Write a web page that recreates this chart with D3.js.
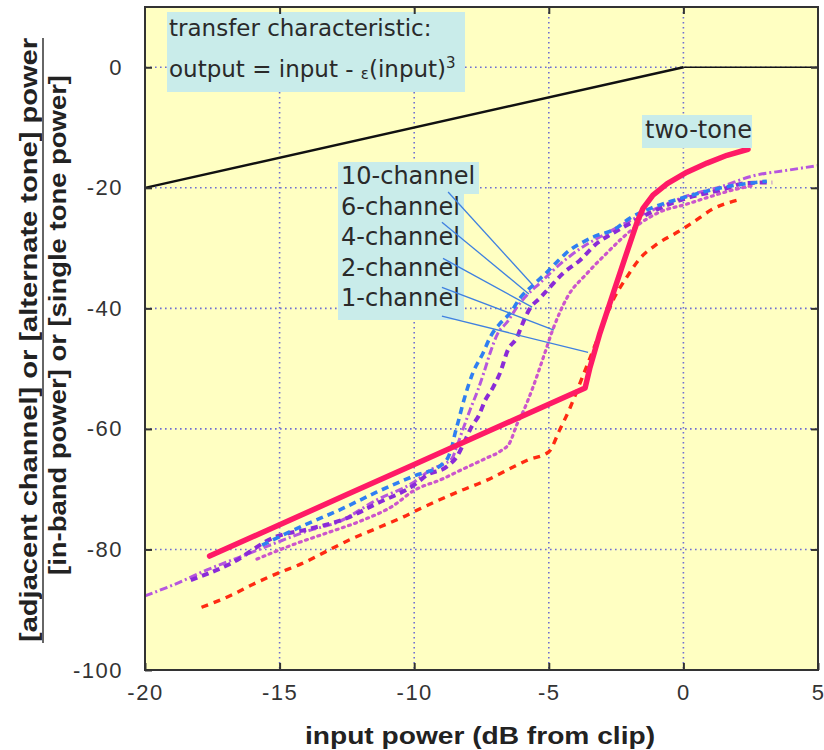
<!DOCTYPE html>
<html>
<head>
<meta charset="utf-8">
<script src="https://cdn.jsdelivr.net/npm/d3@7"></script>
<style>
  body { margin: 0; background: #fff; }
  text { font-family: "Liberation Sans", Arial, sans-serif; }
</style>
</head>
<body>
<script>
// axis ticks
const xTicks = [-20, -15, -10, -5, 0, 5];
const yTicks = [0, -20, -40, -60, -80, -100];
const xGrid = [-15, -10, -5, 0];
const yGrid = [0, -20, -40, -60, -80];

// transfer characteristic (black reference line)
const transferX = [-20, 0, 5];
const transferY = [-20, 0, 0];

// two-tone (solid)
const twoToneX = [-17.6, -15, -12.5, -10, -7.5, -5, -3.65, -3.47, -3.1, -2.6, -2.1, -1.72, -1.5, -1.13, -0.6, 0.13, 0.88, 1.62, 2.4];
const twoToneY = [-81.1, -75.9, -70.9, -65.9, -60.9, -55.9, -53.2, -49.8, -44.1, -37.4, -30.7, -25.7, -23.4, -21.2, -19.3, -17.4, -15.9, -14.6, -13.6];

// 1-channel
const ch1X = [-17.9, -16.8, -16.0, -15.1, -14.2, -13.3, -12.4, -11.4, -10.4, -9.9, -8.3, -7.3, -6.4, -5.8, -5.0, -4.6, -4.2, -3.84, -3.21, -2.61, -2.1, -1.61, -1.0, -0.2, 0.3, 1.1, 2.05];
const ch1Y = [-89.6, -87.6, -85.8, -84.0, -82.4, -80.4, -78.4, -76.5, -74.6, -73.5, -70.3, -68.5, -66.5, -65.2, -63.8, -60.2, -56.4, -52.4, -45.3, -38.6, -34.8, -31.7, -29.4, -27.3, -25.9, -23.5, -22.0];

// 2-channel
const ch2X = [-15.84, -14.5, -13.2, -12.0, -10.8, -10.0, -9.0, -8.3, -7.3, -6.8, -6.44, -6.18, -5.96, -5.59, -5.2, -4.84, -4.32, -3.58, -2.84, -2.24, -1.61, -0.87, 0.13, 0.9, 1.8, 2.6];
const ch2Y = [-81.6, -79.2, -77.2, -75.3, -72.8, -70.2, -68.4, -66.9, -64.8, -63.7, -62.2, -59.2, -57.2, -53.1, -48.1, -43.4, -38.2, -34.2, -30.8, -28.2, -25.9, -24.0, -22.7, -21.6, -20.4, -19.6];

// 4-channel
const ch4X = [-18.3, -16.8, -15.2, -13.9, -12.5, -11.4, -10.0, -9.5, -8.8, -8.4, -8.1, -7.85, -7.6, -7.37, -7.07, -6.81, -6.52, -6.18, -6.0, -5.7, -5.33, -4.96, -4.5, -3.84, -3.21, -2.61, -1.98, -1.13, 0.13, 1.36, 2.36, 3.3];
const ch4Y = [-85.1, -82.3, -78.0, -76.6, -74.8, -72.4, -69.3, -67.6, -66.3, -64.5, -61.8, -59.5, -57.8, -55.3, -53.1, -50.7, -46.9, -44.8, -42.8, -40.0, -38.3, -36.5, -34.3, -32.0, -29.2, -27.5, -25.9, -23.9, -21.7, -20.4, -19.2, -19.1];

// 6-channel
const ch6X = [-20, -18.96, -17.7, -16.5, -15.25, -14.0, -12.8, -11.4, -10.0, -9.4, -8.6, -8.4, -8.2, -7.93, -7.63, -7.4, -7.18, -6.89, -6.55, -6.18, -5.81, -5.33, -4.84, -4.32, -3.7, -3.0, -2.3, -1.6, -1.0, 0.1, 1.4, 2.6, 3.85, 5.0];
const ch6Y = [-87.7, -85.9, -83.4, -81.3, -79.1, -77.0, -75.4, -71.8, -68.8, -66.8, -64.9, -62.7, -60.2, -56.9, -53.5, -50.5, -47.4, -44.1, -42.3, -39.8, -37.8, -35.8, -33.7, -31.7, -29.7, -27.9, -26.2, -24.6, -23.4, -21.4, -19.8, -18.0, -17.1, -16.3];

// 10-channel
const ch10X = [-15.65, -14.1, -12.8, -11.4, -10.0, -9.0, -8.74, -8.6, -8.48, -8.37, -8.19, -7.82, -7.44, -7.18, -6.81, -6.44, -6.07, -5.6, -5.07, -4.7, -4.21, -3.73, -3.21, -2.61, -1.98, -1.1, 0.1, 1.4, 2.5, 3.1];
const ch10Y = [-79.3, -76.0, -73.5, -70.5, -67.8, -66.0, -64.7, -63.0, -60.7, -58.9, -55.8, -50.7, -47.4, -44.8, -42.5, -40.8, -38.3, -36.2, -34.0, -32.3, -30.3, -29.0, -27.9, -27.0, -25.0, -23.2, -21.5, -20.0, -19.2, -18.9];

// label names and leader lines (start / end in data units)
const labelNames = ["10-channel", "6-channel", "4-channel", "2-channel", "1-channel"];
const leaderX0 = [-8.74, -8.97, -8.93, -8.97, -8.97];
const leaderY0 = [-20.7, -25.7, -31.7, -36.5, -41.3];
const leaderX1 = [-5.62, -5.74, -5.62, -4.81, -3.54];
const leaderY1 = [-36.0, -37.6, -39.8, -43.6, -47.3];

const series = [
  {name: "1-channel", x: ch1X, y: ch1Y, color: "#ff2a12", width: 3.4, dash: "7,6", cap: "butt", curve: d3.curveMonotoneX},
  {name: "2-channel", x: ch2X, y: ch2Y, color: "#cc55cc", width: 3.2, dash: "2,4.5", cap: "round", curve: d3.curveMonotoneX},
  {name: "6-channel", x: ch6X, y: ch6Y, color: "#b656de", width: 3, dash: "8,3,2,3", cap: "butt", curve: d3.curveMonotoneX},
  {name: "4-channel", x: ch4X, y: ch4Y, color: "#8a2bd8", width: 4, dash: "7,5", cap: "butt", curve: d3.curveMonotoneX},
  {name: "10-channel", x: ch10X, y: ch10Y, color: "#2f7ff2", width: 3.6, dash: "7,5", cap: "butt", curve: d3.curveMonotoneX},
  {name: "two-tone", x: twoToneX, y: twoToneY, color: "#ff1a66", width: 5.5, dash: null, cap: "round", curve: d3.curveLinear}
];

let margin = {top: 7, right: 6, bottom: 80, left: 145},
    width = 824 - margin.left - margin.right,
    height = 750 - margin.top - margin.bottom;

let svg = d3.select("body")
    .append("svg")
    .attr("width", 824)
    .attr("height", 750);

let g = svg.append("g")
    .attr("transform", "translate(" + margin.left + "," + margin.top + ")");

let x = d3.scaleLinear().domain([-20, 5]).range([0, width]);
let y = d3.scaleLinear().domain([-100, 10]).range([height, 0]);

// plot background
g.append("rect")
    .attr("width", width)
    .attr("height", height)
    .attr("fill", "#ffffc2");

// dotted grid
g.selectAll(".gx").data(xGrid).enter().append("line")
    .attr("x1", d => x(d)).attr("x2", d => x(d))
    .attr("y1", 0).attr("y2", height)
    .attr("stroke", "#6e6ed2").attr("stroke-width", 1.6)
    .attr("stroke-dasharray", "1.6,3.4");
g.selectAll(".gy").data(yGrid).enter().append("line")
    .attr("x1", 0).attr("x2", width)
    .attr("y1", d => y(d)).attr("y2", d => y(d))
    .attr("stroke", "#6e6ed2").attr("stroke-width", 1.6)
    .attr("stroke-dasharray", "1.6,3.4");

// transfer characteristic
g.append("path")
    .datum(d3.range(2).map(i => [transferX[i], transferY[i]]))
    .attr("fill", "none").attr("stroke", "#111").attr("stroke-width", 2.4)
    .attr("d", d3.line().x(d => x(d[0])).y(d => y(d[1])));
g.append("path")
    .datum(d3.range(1, 3).map(i => [transferX[i], transferY[i]]))
    .attr("fill", "none").attr("stroke", "#111").attr("stroke-width", 1.4)
    .attr("d", d3.line().x(d => x(d[0])).y(d => y(d[1])));

// curves
series.forEach(function(s) {
  let line = d3.line()
      .x(d => x(d[0]))
      .y(d => y(d[1]))
      .curve(s.curve);
  g.append("path")
      .datum(s.x.map((v, i) => [v, s.y[i]]))
      .attr("fill", "none")
      .attr("stroke", s.color)
      .attr("stroke-width", s.width)
      .attr("stroke-linecap", s.cap)
      .attr("stroke-linejoin", "round")
      .attr("stroke-dasharray", s.dash)
      .attr("d", line);
});

// annotation boxes
const boxFill = "#c9ecea";
const labelFont = "'DejaVu Sans', Verdana, sans-serif";

// transfer characteristic box
g.append("rect").attr("x", 22).attr("y", 5).attr("width", 298).attr("height", 80).attr("fill", boxFill);
g.append("text").attr("x", 24).attr("y", 29)
    .style("font-family", labelFont).style("font-size", "23px").attr("fill", "#2a2a2a")
    .text("transfer characteristic:");
let t2 = g.append("text").attr("x", 24).attr("y", 70)
    .style("font-family", labelFont).style("font-size", "23px").attr("fill", "#2a2a2a");
t2.append("tspan").text("output = input - ");
t2.append("tspan").style("font-size", "15px").attr("dy", 2).text("ε");
t2.append("tspan").attr("dy", -2).text("(input)");
t2.append("tspan").style("font-size", "15px").attr("dy", -9).text("3");

// channel labels box
g.append("rect").attr("x", 193).attr("y", 155).attr("width", 141).attr("height", 32).attr("fill", boxFill);
g.append("rect").attr("x", 193).attr("y", 186).attr("width", 126).attr("height", 127).attr("fill", boxFill);
g.selectAll(".lbl").data(labelNames).enter().append("text")
    .attr("x", 196)
    .attr("y", (d, i) => 177 + i * 30.6)
    .style("font-family", labelFont).style("font-size", "24px")
    .attr("fill", "#2a2a2a")
    .text(d => d);

// leader lines
g.selectAll(".leader").data(labelNames).enter().append("line")
    .attr("x1", (d, i) => x(leaderX0[i])).attr("y1", (d, i) => y(leaderY0[i]))
    .attr("x2", (d, i) => x(leaderX1[i])).attr("y2", (d, i) => y(leaderY1[i]))
    .attr("stroke", "#3f80e0").attr("stroke-width", 1.3);

// two-tone label
g.append("rect").attr("x", 497).attr("y", 108).attr("width", 110).attr("height", 33).attr("fill", boxFill);
g.append("text").attr("x", 500).attr("y", 131)
    .style("font-family", labelFont).style("font-size", "24px")
    .attr("fill", "#2a2a2a").text("two-tone");

// frame
g.append("rect")
    .attr("width", width).attr("height", height)
    .attr("fill", "none").attr("stroke", "#333").attr("stroke-width", 2);

// axes with inward ticks
let fmt = d => String(d);
let xAxis = g.append("g")
    .attr("transform", "translate(0," + height + ")")
    .call(d3.axisBottom(x).tickValues(xTicks).tickSize(-7).tickPadding(14).tickFormat(fmt));
let xTop = g.append("g")
    .call(d3.axisTop(x).tickValues(xGrid).tickSize(-7).tickFormat(""));
let yAxis = g.append("g")
    .call(d3.axisLeft(y).tickValues(yTicks).tickSize(-7).tickPadding(22).tickFormat(fmt));
let yRight = g.append("g")
    .attr("transform", "translate(" + width + ",0)")
    .call(d3.axisRight(y).tickValues(yGrid).tickSize(-7).tickFormat(""));

[xAxis, xTop, yAxis, yRight].forEach(function(a) {
  a.select(".domain").remove();
  a.selectAll(".tick line").attr("stroke", "#333").attr("stroke-width", 2);
  a.selectAll("text")
      .style("font-size", "22px")
      .style("letter-spacing", "1.5px")
      .style("font-family", "'Liberation Sans', Arial, sans-serif")
      .attr("fill", "#333");
});

// axis titles
svg.append("text")
    .attr("x", 480).attr("y", 744)
    .attr("text-anchor", "middle")
    .style("font-size", "24px").style("font-weight", "bold")
    .attr("textLength", 350).attr("lengthAdjust", "spacingAndGlyphs")
    .attr("fill", "#222")
    .text("input power (dB from clip)");

let yl = svg.append("g");
yl.append("text")
    .attr("transform", "translate(37,340) rotate(-90)")
    .attr("text-anchor", "middle")
    .style("font-size", "23px").style("font-weight", "bold")
    .attr("textLength", 604).attr("lengthAdjust", "spacingAndGlyphs")
    .attr("fill", "#222")
    .text("[adjacent channel] or  [alternate tone]  power");
yl.append("line")
    .attr("x1", 43).attr("x2", 43).attr("y1", 38).attr("y2", 643)
    .attr("stroke", "#666").attr("stroke-width", 2);
yl.append("text")
    .attr("transform", "translate(66,325) rotate(-90)")
    .attr("text-anchor", "middle")
    .style("font-size", "23px").style("font-weight", "bold")
    .attr("textLength", 500).attr("lengthAdjust", "spacingAndGlyphs")
    .attr("fill", "#222")
    .text("[in-band power] or [single tone power]");
</script>
</body>
</html>
